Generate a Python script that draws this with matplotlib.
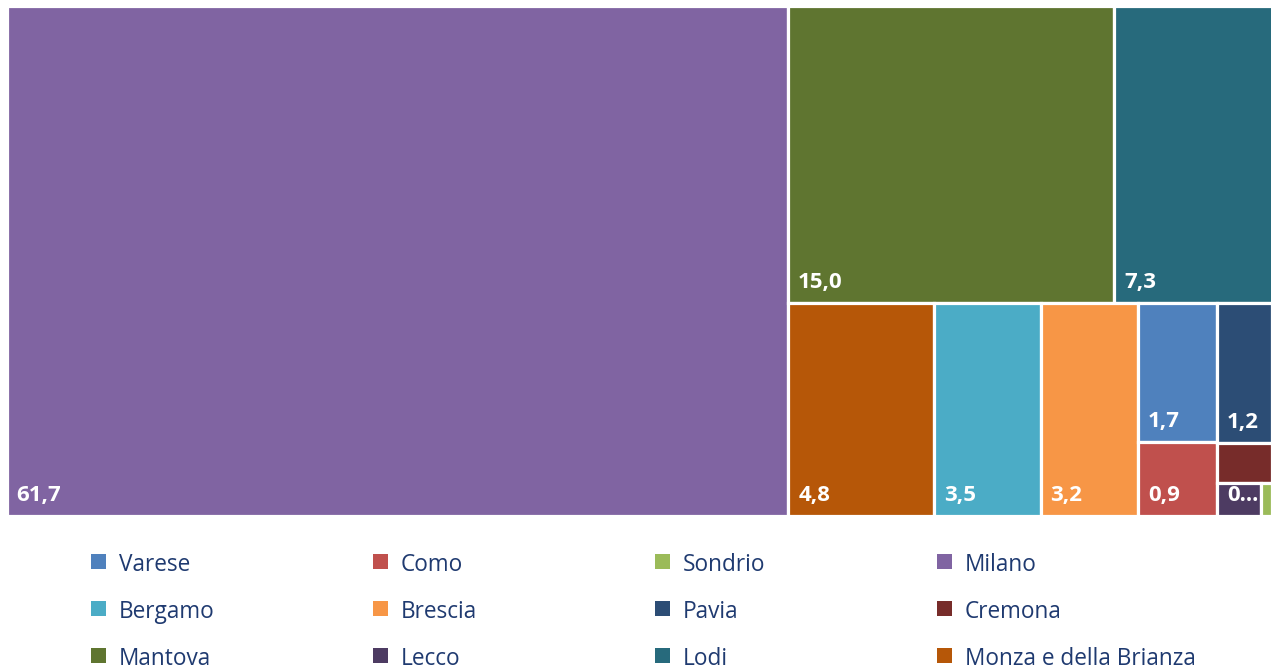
#%% Import Libraries
import matplotlib.pyplot as plt
from matplotlib.patches import Rectangle

#%% Data (province di Lombardia)
names = ['Varese', 'Como', 'Sondrio', 'Milano',
         'Bergamo', 'Brescia', 'Pavia', 'Cremona',
         'Mantova', 'Lecco', 'Lodi', 'Monza e della Brianza']
values = [1.7, 0.9, 0.06, 61.7,
          3.5, 3.2, 1.2, 0.35,
          15.0, 0.22, 7.3, 4.8]
colors = ['#4F81BD', '#C0504D', '#9BBB59', '#8064A2',
          '#4BACC6', '#F79646', '#2C4D75', '#772C2A',
          '#5F7530', '#4D3B62', '#276A7C', '#B65708']
# labels as shown in the tiles (None = hidden, too small)
labels = ['1,7', '0,9', None, '61,7',
          '3,5', '3,2', '1,2', None,
          '15,0', '0...', '7,3', '4,8']

# nesting of the tiles (indices into names), split direction alternates
idx = {n: i for i, n in enumerate(names)}
tree = [idx['Milano'],
        [[idx['Mantova'], idx['Lodi']],
         [idx['Monza e della Brianza'], idx['Bergamo'], idx['Brescia'],
          [idx['Varese'], idx['Como']],
          [idx['Pavia'], idx['Cremona'], [idx['Lecco'], idx['Sondrio']]]]]]


def total(node):
    if isinstance(node, list):
        return sum(total(n) for n in node)
    return values[node]


def layout(node, x, y, w, h, along_x, out):
    if not isinstance(node, list):
        out[node] = (x, y, w, h)
        return
    s = total(node)
    for n in node:
        f = total(n) / s
        if along_x:
            layout(n, x, y, w * f, h, False, out)
            x += w * f
        else:
            layout(n, x, y, w, h * f, True, out)
            y += h * f


#%% Plot
fig = plt.figure(figsize=(12.71, 6.70), dpi=100)
ax = fig.add_axes([0, 0, 1, 1])
ax.set_xlim(0, 1271)
ax.set_ylim(670, 0)
ax.axis('off')

rects = {}
layout(tree, 6.5, 6, 1266, 510, True, rects)

for i, (x, y, w, h) in rects.items():
    ax.add_patch(Rectangle((x, y), w, h, facecolor=colors[i],
                           edgecolor='white', linewidth=2.3))
    if labels[i]:
        ax.text(x + 10, y + h - 15, labels[i], ha='left', va='baseline',
                color='white', fontsize=16, fontweight='bold',
                family=['Open Sans', 'DejaVu Sans'])

# legend, 4 columns x 3 rows
for i, n in enumerate(names):
    col, row = i % 4, i // 4
    lx = 91 + col * 282
    ly = 561 + row * 47
    ax.add_patch(Rectangle((lx, ly - 7.5), 15, 15, facecolor=colors[i],
                           edgecolor='none'))
    ax.text(lx + 28, ly + 4, n, ha='left', va='center', color='#1F3A70',
            fontsize=16.3, family=['Open Sans', 'DejaVu Sans'])

plt.savefig('out.png', dpi=100)
